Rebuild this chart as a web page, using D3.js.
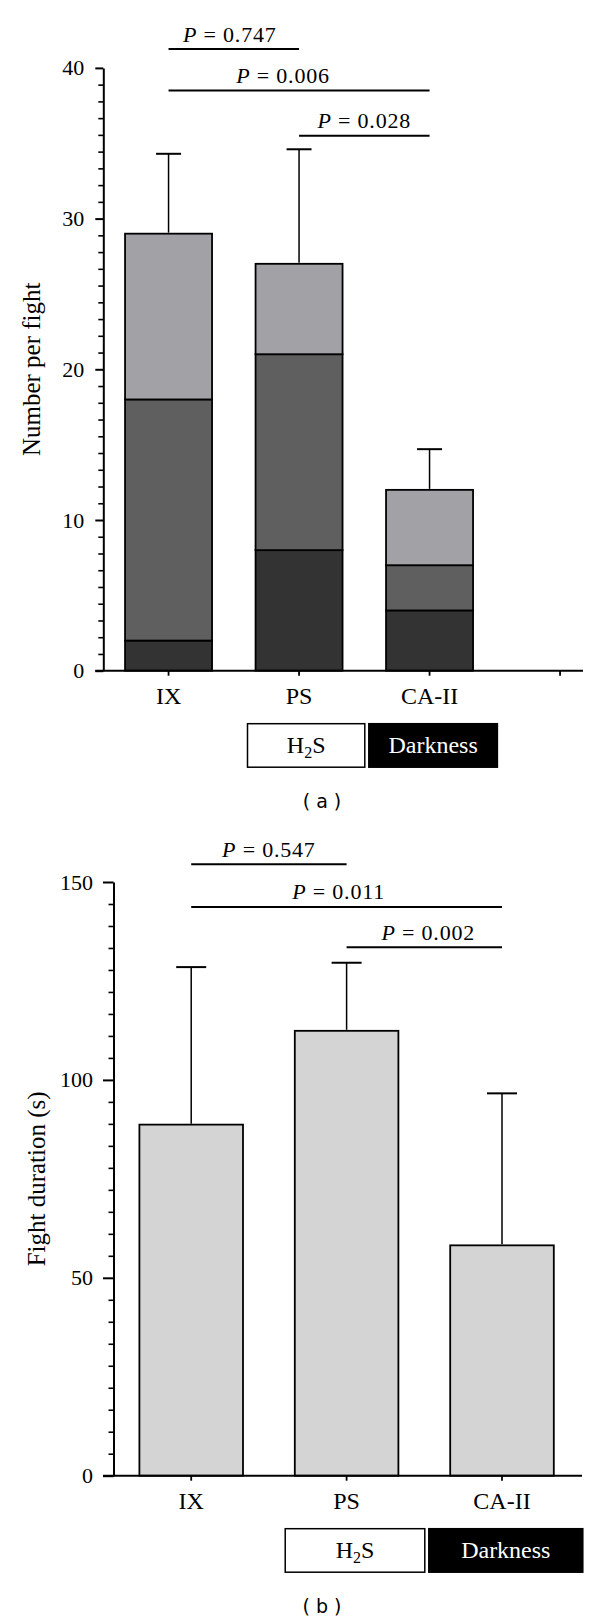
<!DOCTYPE html>
<html>
<head>
<meta charset="utf-8">
<script src="https://cdn.jsdelivr.net/npm/d3@7"></script>
<style>
  body { margin: 0; background: #fff; }
  svg { display: block; }
</style>
</head>
<body>
<svg id="chart" width="600" height="1621"></svg>
<script>
// ---- данные панели (a): число событий за бой, три слоя столбца ----
const categoriesA = ["IX", "PS", "CA-II"];
const lowA = [2, 8, 4];      // нижний (тёмный) слой
const midA = [16, 13, 3];    // средний слой
const highA = [11, 6, 5];    // верхний (светлый) слой
const errorA = [5.3, 7.6, 2.7];
const ticksA = [0, 10, 20, 30, 40];
const compareA = [
    {from: "IX", to: "PS", p: "0.747", level: 41.25},
    {from: "IX", to: "CA-II", p: "0.006", level: 38.5},
    {from: "PS", to: "CA-II", p: "0.028", level: 35.5}
];

// ---- данные панели (b): длительность боя ----
const categoriesB = ["IX", "PS", "CA-II"];
const meanB = [88.7, 112.4, 58.2];
const errorB = [39.8, 17.2, 38.4];
const ticksB = [0, 50, 100, 150];
const compareB = [
    {from: "IX", to: "PS", p: "0.547", level: 154.5},
    {from: "IX", to: "CA-II", p: "0.011", level: 143.7},
    {from: "PS", to: "CA-II", p: "0.002", level: 133.5}
];

const conditions = ["H2S", "Darkness"];

const serif = "'Liberation Serif', 'Times New Roman', serif";
const svg = d3.select("#chart");

// строки для d3.stack
const rowsA = categoriesA.map((c, i) => ({cat: c, low: lowA[i], mid: midA[i], high: highA[i], err: errorA[i]}));
const rowsB = categoriesB.map((c, i) => ({cat: c, mean: meanB[i], err: errorB[i]}));

const panels = [
    {
        rows: rowsA, keys: ["low", "mid", "high"],
        colors: {low: "#333333", mid: "#5f5f5f", high: "#a2a1a6"},
        bands: [...categoriesA, ""], ticks: ticksA, compare: compareA,
        xRange: [103.3, 625.3], xEnd: 583, yRange: [670.7, 67.9],
        majorTick: 8, labelPad: 11, capW: 25,
        yLabel: "Number per fight", yLabelX: 39.5,
        pShift: [-4, -16, 0], caption: "( a )"
    },
    {
        rows: rowsB, keys: ["mean"],
        colors: {mean: "#d4d4d4"},
        bands: categoriesB, ticks: ticksB, compare: compareB,
        xRange: [113.5, 579.7], xEnd: 582, yRange: [1475.7, 882],
        majorTick: 10.5, labelPad: 10, capW: 30,
        yLabel: "Fight duration (s)", yLabelX: 45,
        pShift: [0, -8, 4], caption: "( b )"
    }
];

panels.forEach(drawPanel);

function drawPanel(p) {
    const g = svg.append("g");
    const ticks = p.ticks;
    const yMax = ticks[ticks.length - 1];
    const majorStep = ticks[1] - ticks[0];

    const x = d3.scaleBand()
        .domain(p.bands)
        .range(p.xRange)
        .paddingInner(1 / 3)
        .paddingOuter(1 / 6);
    const y = d3.scaleLinear().domain([0, yMax]).range(p.yRange);

    const axisX = p.xRange[0];
    const y0 = y(0);
    const bw = x.bandwidth();
    const cx = c => x(c) + bw / 2;

    // столбцы (стек)
    const series = d3.stack().keys(p.keys)(p.rows);
    g.selectAll("g.layer")
        .data(series)
        .join("g")
        .attr("class", "layer")
        .attr("fill", d => p.colors[d.key])
        .selectAll("rect")
        .data(d => d)
        .join("rect")
        .attr("x", d => x(d.data.cat))
        .attr("y", d => y(d[1]))
        .attr("width", bw)
        .attr("height", d => y(d[0]) - y(d[1]))
        .attr("stroke", "#000")
        .attr("stroke-width", 1.8);

    // планки погрешностей (только вверх)
    const total = d => d3.sum(p.keys, k => d[k]);
    const errG = g.append("g").attr("stroke", "#000");
    errG.selectAll("line.stem")
        .data(p.rows)
        .join("line")
        .attr("class", "stem")
        .attr("x1", d => cx(d.cat)).attr("x2", d => cx(d.cat))
        .attr("y1", d => y(total(d)) - 1)
        .attr("y2", d => y(total(d) + d.err))
        .attr("stroke-width", 1.5);
    errG.selectAll("line.cap")
        .data(p.rows)
        .join("line")
        .attr("class", "cap")
        .attr("x1", d => cx(d.cat) - p.capW / 2)
        .attr("x2", d => cx(d.cat) + p.capW / 2)
        .attr("y1", d => y(total(d) + d.err))
        .attr("y2", d => y(total(d) + d.err))
        .attr("stroke-width", 2);

    // ось Y: крупные и мелкие деления
    const yAxis = g.append("g")
        .attr("transform", `translate(${axisX},0)`)
        .call(d3.axisLeft(y).tickValues(ticks).tickSize(p.majorTick)
            .tickPadding(p.labelPad).tickSizeOuter(0));
    yAxis.select(".domain").attr("stroke-width", 2);
    yAxis.selectAll(".tick line").attr("stroke-width", 2);
    yAxis.selectAll("text")
        .attr("font-family", serif)
        .attr("font-size", 22)
        .attr("fill", "#000");

    const minor = d3.range(0, (ticks.length - 1) * 9 + 1)
        .filter(k => k % 9 !== 0)
        .map(k => k * majorStep / 9);
    const yMinor = g.append("g")
        .attr("transform", `translate(${axisX},0)`)
        .call(d3.axisLeft(y).tickValues(minor).tickSize(5).tickFormat(""));
    yMinor.select(".domain").remove();
    yMinor.selectAll(".tick line").attr("stroke-width", 1.6);

    // подпись оси Y
    g.append("text")
        .attr("transform", `translate(${p.yLabelX},${(p.yRange[0] + p.yRange[1]) / 2}) rotate(-90)`)
        .attr("text-anchor", "middle")
        .attr("font-family", serif)
        .attr("font-size", 25)
        .text(p.yLabel);

    // ось X
    g.append("line")
        .attr("x1", axisX - p.majorTick).attr("x2", p.xEnd)
        .attr("y1", y0).attr("y2", y0)
        .attr("stroke", "#000").attr("stroke-width", 2);
    const xAxis = g.append("g")
        .attr("transform", `translate(0,${y0})`)
        .call(d3.axisBottom(x).tickSize(5).tickSizeOuter(0));
    xAxis.select(".domain").remove();
    xAxis.selectAll(".tick line").attr("stroke-width", 1.8);
    xAxis.selectAll("text")
        .attr("y", 33.5)
        .attr("dy", 0)
        .attr("font-family", serif)
        .attr("font-size", 24)
        .attr("fill", "#000");

    // линии сравнения с P-значениями
    p.compare.forEach((c, i) => {
        const ly = y(c.level);
        const x1 = cx(c.from), x2 = cx(c.to);
        g.append("line")
            .attr("x1", x1).attr("x2", x2)
            .attr("y1", ly).attr("y2", ly)
            .attr("stroke", "#000").attr("stroke-width", 2);
        const t = g.append("text")
            .attr("x", (x1 + x2) / 2 + p.pShift[i])
            .attr("y", ly - 7.5)
            .attr("text-anchor", "middle")
            .attr("font-family", serif)
            .attr("font-size", 22)
            .attr("letter-spacing", 0.8);
        t.append("tspan").attr("font-style", "italic").text("P");
        t.append("tspan").text(" = " + c.p);
    });

    // плашки условий: H2S и Darkness
    const cPS = cx(p.bands[1]), cCA = cx(p.bands[2]);
    const step = x.step();
    const mid = (cPS + cCA) / 2;
    const boxTop = y0 + 53;
    const boxH = 43.5;
    const boxes = [
        {x0: cPS - 0.395 * step, x1: mid + 0.5, fill: "#fff", text: "#000"},
        {x0: mid + 4.5, x1: cCA + 0.52 * step, fill: "#000", text: "#fff"}
    ];
    boxes.forEach((b, i) => {
        g.append("rect")
            .attr("x", b.x0).attr("y", boxTop)
            .attr("width", b.x1 - b.x0).attr("height", boxH)
            .attr("fill", b.fill)
            .attr("stroke", "#000").attr("stroke-width", 1.5);
        const t = g.append("text")
            .attr("x", (b.x0 + b.x1) / 2)
            .attr("y", boxTop + boxH / 2 + 8)
            .attr("text-anchor", "middle")
            .attr("font-family", serif)
            .attr("font-size", 24)
            .attr("fill", b.text);
        // цифры в названии -> нижний индекс, следующий кусок возвращаем на базовую линию
        let shift = 0;
        conditions[i].split(/(\d)/).filter(s => s).forEach(s => {
            const ts = t.append("tspan").text(s);
            if (/\d/.test(s)) {
                ts.attr("font-size", 16).attr("dy", 5);
                shift = 5;
            } else if (shift) {
                ts.attr("dy", -shift);
                shift = 0;
            }
        });
    });

    // подпись панели
    g.append("text")
        .attr("x", 322)
        .attr("y", y0 + 137)
        .attr("text-anchor", "middle")
        .attr("font-family", "'DejaVu Sans', sans-serif")
        .attr("font-size", 19)
        .text(p.caption);
}
</script>
</body>
</html>
